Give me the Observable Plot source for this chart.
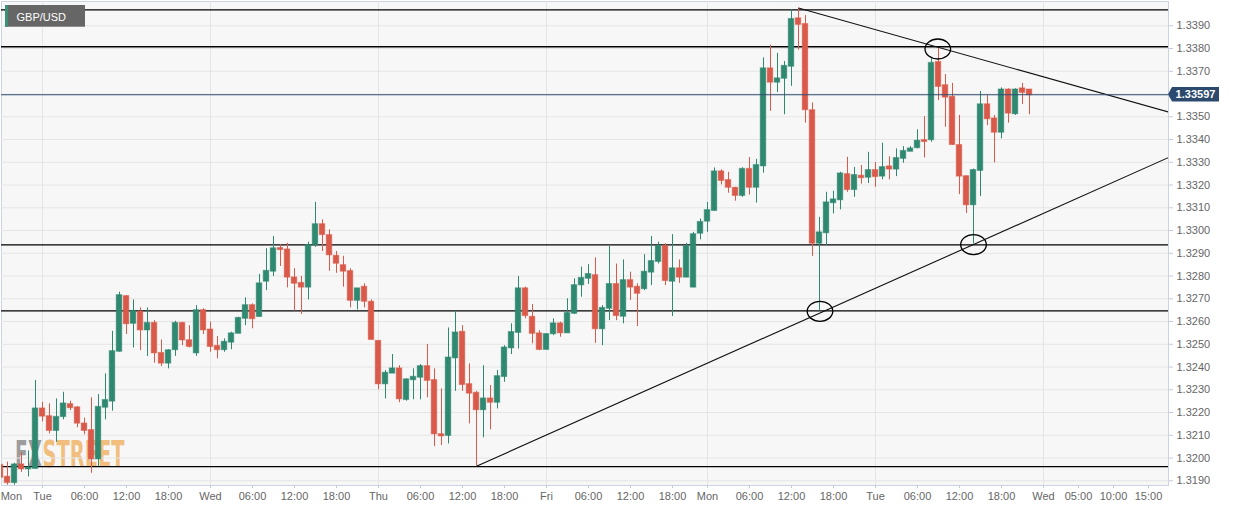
<!DOCTYPE html>
<html><head><meta charset="utf-8">
<script src="https://cdn.jsdelivr.net/npm/d3@7"></script>
<script src="https://cdn.jsdelivr.net/npm/@observablehq/plot@0.6"></script>
<style>
html,body{margin:0;padding:0;background:#fff;}
#chart{position:relative;width:1245px;height:511px;overflow:hidden}
svg{display:block}
</style></head><body><div id="chart"></div>
<script>
// hourly candles, hour index 0 = Tue 00:00 (weekend gap removed); first candle = hour -6
const firstHour = -6;
const open = [1.31968,1.31916,1.31892,1.31970,1.31952,1.31954,
1.32216,1.32182,1.32121,1.32182,1.32235,1.32221,1.32150,1.32121,1.31996,1.32223,1.32250,1.32469,1.32710,1.32592,1.32641,1.32563,1.32592,1.32460,1.32417,1.32476,1.32592,1.32516,1.32462,1.32648,
1.32563,1.32491,1.32476,1.32509,1.32548,1.32614,1.32670,1.32622,1.32777,1.32821,1.32921,1.32915,1.32792,1.32768,1.32751,1.32938,1.33026,1.32978,1.32887,1.32846,1.32820,1.32693,1.32751,1.32685,
1.32513,1.32326,1.32373,1.32392,1.32257,1.32344,1.32355,1.32402,1.32341,1.32103,1.32099,1.32440,1.32553,1.32323,1.32285,1.32212,1.32260,1.32245,1.32358,1.32484,1.32552,1.32744,1.32619,1.32546,
1.32477,1.32546,1.32590,1.32550,1.32636,1.32761,1.32790,1.32802,1.32568,1.32658,1.32763,1.32623,1.32780,1.32751,1.32744,1.32817,1.32864,1.32930,1.32777,1.32832,1.32795,1.32751,1.32988,
1.33041,1.33088,1.33258,1.33220,1.33186,1.33154,1.33269,1.33190,1.33284,1.33711,1.33652,1.33669,1.33722,1.33931,1.33906,1.33527,1.32944,1.32990,1.33122,1.33135,1.33246,1.33180,1.33239,1.33234,
1.33264,1.33239,1.33280,1.33270,1.33317,1.33348,1.33364,1.33396,1.33399,1.33739,1.33637,1.33586,1.33374,1.33237,1.33113,1.33264,1.33553,1.33491,1.33432,1.33618,1.33513,1.33623,1.33618];
const high = [1.31998,1.31982,1.31977,1.32024,1.32031,1.32341,
1.32245,1.32238,1.32260,1.32289,1.32250,1.32226,1.32175,1.32265,1.32279,1.32370,1.32557,1.32729,1.32714,1.32695,1.32660,1.32660,1.32604,1.32519,1.32476,1.32601,1.32597,1.32582,1.32670,1.32656,
1.32597,1.32534,1.32524,1.32553,1.32619,1.32704,1.32678,1.32807,1.32920,1.32974,1.32938,1.32944,1.32832,1.32798,1.32949,1.33124,1.33047,1.33003,1.32908,1.32887,1.32832,1.32744,1.32766,1.32695,
1.32516,1.32385,1.32455,1.32406,1.32348,1.32392,1.32411,1.32499,1.32392,1.32304,1.32572,1.32645,1.32582,1.32414,1.32293,1.32406,1.32319,1.32385,1.32494,1.32590,1.32798,1.32751,1.32675,1.32560,
1.32546,1.32612,1.32597,1.32700,1.32788,1.32839,1.32850,1.32880,1.32670,1.32930,1.32853,1.32871,1.32817,1.32766,1.32894,1.32974,1.32949,1.32942,1.32982,1.32871,1.32944,1.32992,1.33051,
1.33124,1.33275,1.33267,1.33256,1.33190,1.33276,1.33321,1.33313,1.33759,1.33815,1.33779,1.33743,1.33970,1.33978,1.33945,1.33561,1.33058,1.33168,1.33173,1.33256,1.33322,1.33277,1.33286,1.33344,
1.33299,1.33384,1.33324,1.33359,1.33369,1.33369,1.33443,1.33501,1.33755,1.33800,1.33686,1.33647,1.33506,1.33240,1.33270,1.33611,1.33593,1.33506,1.33627,1.33623,1.33623,1.33647,1.33620];
const low = [1.31901,1.31881,1.31881,1.31937,1.31917,1.31952,
1.32159,1.32106,1.32069,1.32168,1.32209,1.32133,1.32102,1.31933,1.31963,1.32168,1.32206,1.32465,1.32543,1.32484,1.32472,1.32446,1.32417,1.32402,1.32392,1.32447,1.32494,1.32484,1.32447,1.32543,
1.32465,1.32436,1.32465,1.32476,1.32546,1.32582,1.32568,1.32619,1.32736,1.32798,1.32842,1.32748,1.32645,1.32631,1.32695,1.32926,1.32908,1.32821,1.32812,1.32751,1.32660,1.32651,1.32660,1.32519,
1.32300,1.32260,1.32371,1.32243,1.32250,1.32256,1.32256,1.32265,1.32050,1.32055,1.32062,1.32293,1.32293,1.32150,1.31965,1.32089,1.32124,1.32216,1.32333,1.32455,1.32479,1.32612,1.32502,1.32472,
1.32477,1.32538,1.32531,1.32550,1.32631,1.32707,1.32763,1.32504,1.32494,1.32604,1.32604,1.32590,1.32693,1.32578,1.32736,1.32758,1.32853,1.32758,1.32622,1.32768,1.32792,1.32748,1.32959,
1.32992,1.33085,1.33201,1.33164,1.33129,1.33146,1.33156,1.33121,1.33252,1.33524,1.33607,1.33509,1.33634,1.33793,1.33472,1.32886,1.32646,1.32934,1.33073,1.33091,1.33168,1.33146,1.33204,1.33207,
1.33190,1.33223,1.33223,1.33237,1.33296,1.33348,1.33359,1.33319,1.33388,1.33571,1.33454,1.33374,1.33158,1.33075,1.32941,1.33149,1.33461,1.33297,1.33403,1.33472,1.33506,1.33554,1.33509];
const close = [1.31915,1.31892,1.31970,1.31952,1.31957,1.32216,
1.32184,1.32121,1.32179,1.32238,1.32221,1.32153,1.32121,1.31996,1.32223,1.32253,1.32468,1.32714,1.32590,1.32645,1.32563,1.32592,1.32462,1.32417,1.32472,1.32592,1.32519,1.32490,1.32648,1.32563,
1.32490,1.32476,1.32509,1.32546,1.32614,1.32670,1.32612,1.32766,1.32821,1.32920,1.32916,1.32795,1.32768,1.32751,1.32934,1.33026,1.32982,1.32893,1.32856,1.32821,1.32693,1.32744,1.32689,1.32521,
1.32326,1.32373,1.32392,1.32260,1.32344,1.32355,1.32402,1.32341,1.32106,1.32097,1.32440,1.32550,1.32323,1.32285,1.32212,1.32260,1.32245,1.32358,1.32484,1.32552,1.32744,1.32626,1.32548,1.32477,
1.32543,1.32590,1.32550,1.32636,1.32758,1.32790,1.32807,1.32568,1.32658,1.32763,1.32626,1.32780,1.32751,1.32724,1.32817,1.32864,1.32930,1.32780,1.32832,1.32795,1.32930,1.32982,1.33036,
1.33088,1.33258,1.33220,1.33190,1.33154,1.33269,1.33190,1.33286,1.33711,1.33652,1.33667,1.33722,1.33928,1.33906,1.33531,1.32944,1.32990,1.33122,1.33135,1.33249,1.33180,1.33242,1.33232,1.33264,
1.33237,1.33277,1.33270,1.33317,1.33348,1.33359,1.33393,1.33391,1.33735,1.33633,1.33586,1.33378,1.33239,1.33113,1.33264,1.33553,1.33491,1.33432,1.33618,1.33516,1.33618,1.33607,1.33597];

// horizontal support / resistance levels
const levels = [1.33970, 1.33808, 1.32937, 1.32647, 1.31962];
// trend lines: start/end anchors (hour index, price)
const trendStartHour = [108, 62];
const trendStartPrice = [1.33978, 1.31964];
const trendEndHour = [160.86, 160.86];
const trendEndPrice = [1.33521, 1.33321];
// marked touch points
const markHour = [111.07, 133, 127.9];
const markPrice = [1.32645, 1.32938, 1.33798];
// axes
const yTicks = [1.3190,1.3200,1.3210,1.3220,1.3230,1.3240,1.3250,1.3260,1.3270,1.3280,1.3290,1.3300,1.3310,1.3320,1.3330,1.3340,1.3350,1.3360,1.3370,1.3380,1.3390];
const xTickHours = [0,6,12,18,24,30,36,42,48,54,60,66,72,78,84,90,95,101,107,113,119,125,131,137,143,148,153,158];
const xTickLabels = ["Tue","06:00","12:00","18:00","Wed","06:00","12:00","18:00","Thu","06:00","12:00","18:00","Fri","06:00","12:00","18:00","Mon","06:00","12:00","18:00","Tue","06:00","12:00","18:00","Wed","05:00","10:00","15:00"];
const firstDayHour = -4.45, firstDayLabel = "Mon";
const dayHours = [0,24,48,72,95,119,143];
const lastPrice = close[close.length-1];

const candles = open.map((o,i)=>({h: firstHour+i, open:o, high:high[i], low:low[i], close:close[i]}));
const trends = trendStartHour.map((h,i)=>({h1:h, p1:trendStartPrice[i], h2:trendEndHour[i], p2:trendEndPrice[i]}));
const marks = markHour.map((h,i)=>({h, p:markPrice[i]}));
const labelMap = new Map(xTickHours.map((h,i)=>[h, xTickLabels[i]]));
labelMap.set(firstDayHour, firstDayLabel);
// the price tag hides the axis label it sits on
const yLabelTicks = yTicks.filter(t => Math.abs(t - lastPrice) > 0.0005);

const UP = "#2f8870", DOWN = "#d95a4a";
const col = d => d.close >= d.open ? UP : DOWN;

const ellipse = {draw(ctx){
  const rx=12.8, ry=10, kx=rx*0.5523, ky=ry*0.5523;
  ctx.moveTo(rx,0);
  ctx.bezierCurveTo(rx,ky,kx,ry,0,ry);
  ctx.bezierCurveTo(-kx,ry,-rx,ky,-rx,0);
  ctx.bezierCurveTo(-rx,-ky,-kx,-ry,0,-ry);
  ctx.bezierCurveTo(kx,-ry,rx,-ky,rx,0);
  ctx.closePath();
}};

const chart = Plot.plot({
  width: 1245, height: 511,
  marginTop: 1, marginLeft: 1, marginRight: 77, marginBottom: 26,
  x: {domain: [-41/7, 1126/7]},
  y: {domain: [1.318793, 1.340068]},
  style: {fontFamily: "'Liberation Sans', Arial, sans-serif", fontSize: "11px", background: "#fff", overflow: "visible"},
  marks: [
    Plot.frame({fill: "#f7f7f7", stroke: "#cdd3e2"}),
    Plot.ruleY(yTicks, {stroke: "#e5e5e5", strokeWidth: 1}),
    Plot.ruleX(dayHours, {stroke: "#e5e5e5", strokeWidth: 1}),
    Plot.ruleY(levels, {stroke: "#000", strokeWidth: 1.3}),
    Plot.ruleX(candles, {x: "h", y1: "low", y2: "high", stroke: col, strokeWidth: 1, clip: true}),
    Plot.rect(candles, {x1: d => d.h - 0.4, x2: d => d.h + 0.4, y1: "open", y2: "close",
      fill: col, stroke: col, strokeOpacity: 0.45, strokeWidth: 1, insetTop: -0.5, insetBottom: -0.5, clip: true}),
    Plot.link(trends, {x1: "h1", y1: "p1", x2: "h2", y2: "p2", stroke: "#111", strokeWidth: 1.1, clip: true}),
    Plot.ruleY([lastPrice], {stroke: "#2c4b70", strokeWidth: 1.2}),
    Plot.dot(marks, {x: "h", y: "p", symbol: ellipse, stroke: "#000", strokeWidth: 1.3, fill: "none"}),
    Plot.axisY({anchor: "right", ticks: yLabelTicks, tickFormat: d => d.toFixed(4), tickSize: 4, tickPadding: 4,
      stroke: "#c3c9d9", fill: "#666", label: null}),
    Plot.axisX({anchor: "bottom", ticks: xTickHours, tickFormat: () => "", tickSize: 3, stroke: "#c3c9d9", label: null}),
    Plot.axisX({anchor: "bottom", ticks: [firstDayHour, ...xTickHours], tickFormat: d => labelMap.get(d), tickSize: 0, tickPadding: 7,
      fill: "#666", label: null})
  ]
});
document.getElementById("chart").appendChild(chart);

const svg = d3.select(chart);
const ys = chart.scale("y");
// watermark, placed just above the background frame
const frameEl = chart.querySelector('[aria-label="frame"]');
const wm = document.createElementNS("http://www.w3.org/2000/svg", "g");
chart.insertBefore(wm, frameEl ? frameEl.nextSibling : chart.firstChild);
const wmg = d3.select(wm).attr("text-anchor", "start").style("font-family", "'DejaVu Sans Condensed', 'DejaVu Sans', sans-serif").style("font-weight", "bold").style("font-size", "38px");
wmg.append("text").attr("text-anchor", "start").attr("x", 15).attr("y", 466.5).attr("textLength", 27).attr("lengthAdjust", "spacingAndGlyphs").attr("fill", "#8c8c8c").attr("fill-opacity", 0.85).text("FX");
wmg.append("text").attr("text-anchor", "start").attr("x", 42.5).attr("y", 466.5).attr("textLength", 82).attr("lengthAdjust", "spacingAndGlyphs").attr("fill", "#f0b468").attr("fill-opacity", 0.85).text("STREET");

// symbol badge
const badge = svg.append("g").attr("text-anchor", "start");
badge.append("rect").attr("x", 5).attr("y", 5).attr("width", 80).attr("height", 21.7).attr("fill", "#666");
badge.append("rect").attr("x", 5).attr("y", 5).attr("width", 3).attr("height", 21.7).attr("fill", "#3a8f76");
badge.append("text").attr("text-anchor", "start").attr("x", 16.5).attr("y", 20.5).attr("fill", "#fff").style("font-size", "11px").style("font-family", "'Liberation Sans', Arial, sans-serif").text("GBP/USD");

// last price tag
const py = ys.apply(lastPrice);
const tag = svg.append("g");
tag.append("path").attr("d", `M1168,${py} L1172,${py-7.2} H1219 V${py+7.2} H1172 Z`).attr("fill", "#2c4a6e");
tag.append("text").attr("x", 1195.5).attr("y", py + 4).attr("text-anchor", "middle").attr("fill", "#fff")
  .style("font-weight", "bold").style("font-size", "11px").style("font-family", "'Liberation Sans', Arial, sans-serif").text(lastPrice.toFixed(5));
</script></body></html>
